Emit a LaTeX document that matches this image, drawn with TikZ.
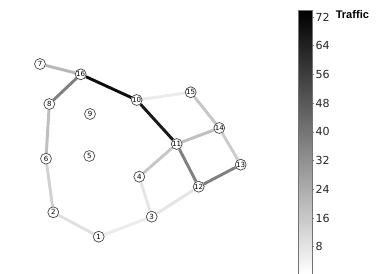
\documentclass[tikz,border=0pt]{standalone}
\usepackage{fontspec}
\setsansfont{DejaVu Sans}
\newfontfamily\titlefont{Liberation Sans}
\usepackage{tikz}
\usetikzlibrary{backgrounds}
\tikzset{
  station/.style={circle, draw=black!75, fill=white, line width=0.5pt,
                  minimum size=8.2pt, inner sep=0pt,
                  font=\sffamily\fontsize{5.3}{5.3}\selectfont},
  link/.style={line width=2.2pt},
  colourbar/.style={draw=black!55, line width=0.6pt, inner sep=0pt,
                    minimum width=10.5pt, minimum height=198pt,
                    top color=black, bottom color=white},
  ticklabel/.style={text=black!85, font=\sffamily\fontsize{8.3}{8.3}\selectfont,
                    inner sep=0pt, anchor=west, xshift=1pt},
}

\begin{document}
\begin{tikzpicture}[x=0.75pt, y=-0.75pt]
\useasboundingbox (0,0) rectangle (382,274);

% stations
\foreach \id/\px/\py in {1/98.7/236.7, 2/53.3/212.3, 3/151.7/216.7,
    4/139.3/176.7, 5/89.3/156, 6/46/158.7, 7/40/64, 8/49.3/104,
    9/90/114, 10/136.7/100, 11/176.7/144, 12/198.7/186.7,
    13/240.7/164.7, 14/219.3/128, 15/190.7/92.3, 16/80.7/74.3}
  \node[station] (n\id) at (\px,\py) {\id};

% links, shaded by traffic
\begin{scope}[on background layer]
\foreach \a/\b/\lvl in {16/10/95, 10/11/90, 16/8/50, 7/16/28, 8/6/25,
    6/2/18, 2/1/12, 1/3/8, 3/4/10, 3/12/10, 4/11/22, 11/14/25,
    14/15/22, 14/13/20, 13/12/50, 11/12/50, 10/15/8}
  \draw[link, draw=black!\lvl] (n\a) -- (n\b);
\end{scope}

% colour bar
\node[colourbar, anchor=north west] (bar) at (298,10) {};
\foreach \v in {8,16,...,72}
  \draw[black!55, line width=0.5pt] (312,275.4-3.5875*\v) -- ++(2,0)
    node[ticklabel] {\v};
\node[font=\titlefont\bfseries\fontsize{8.3}{9}\selectfont, anchor=west,
  inner sep=0pt] (title) at (335.5,14.5) {Traffic};
\end{tikzpicture}
\end{document}
